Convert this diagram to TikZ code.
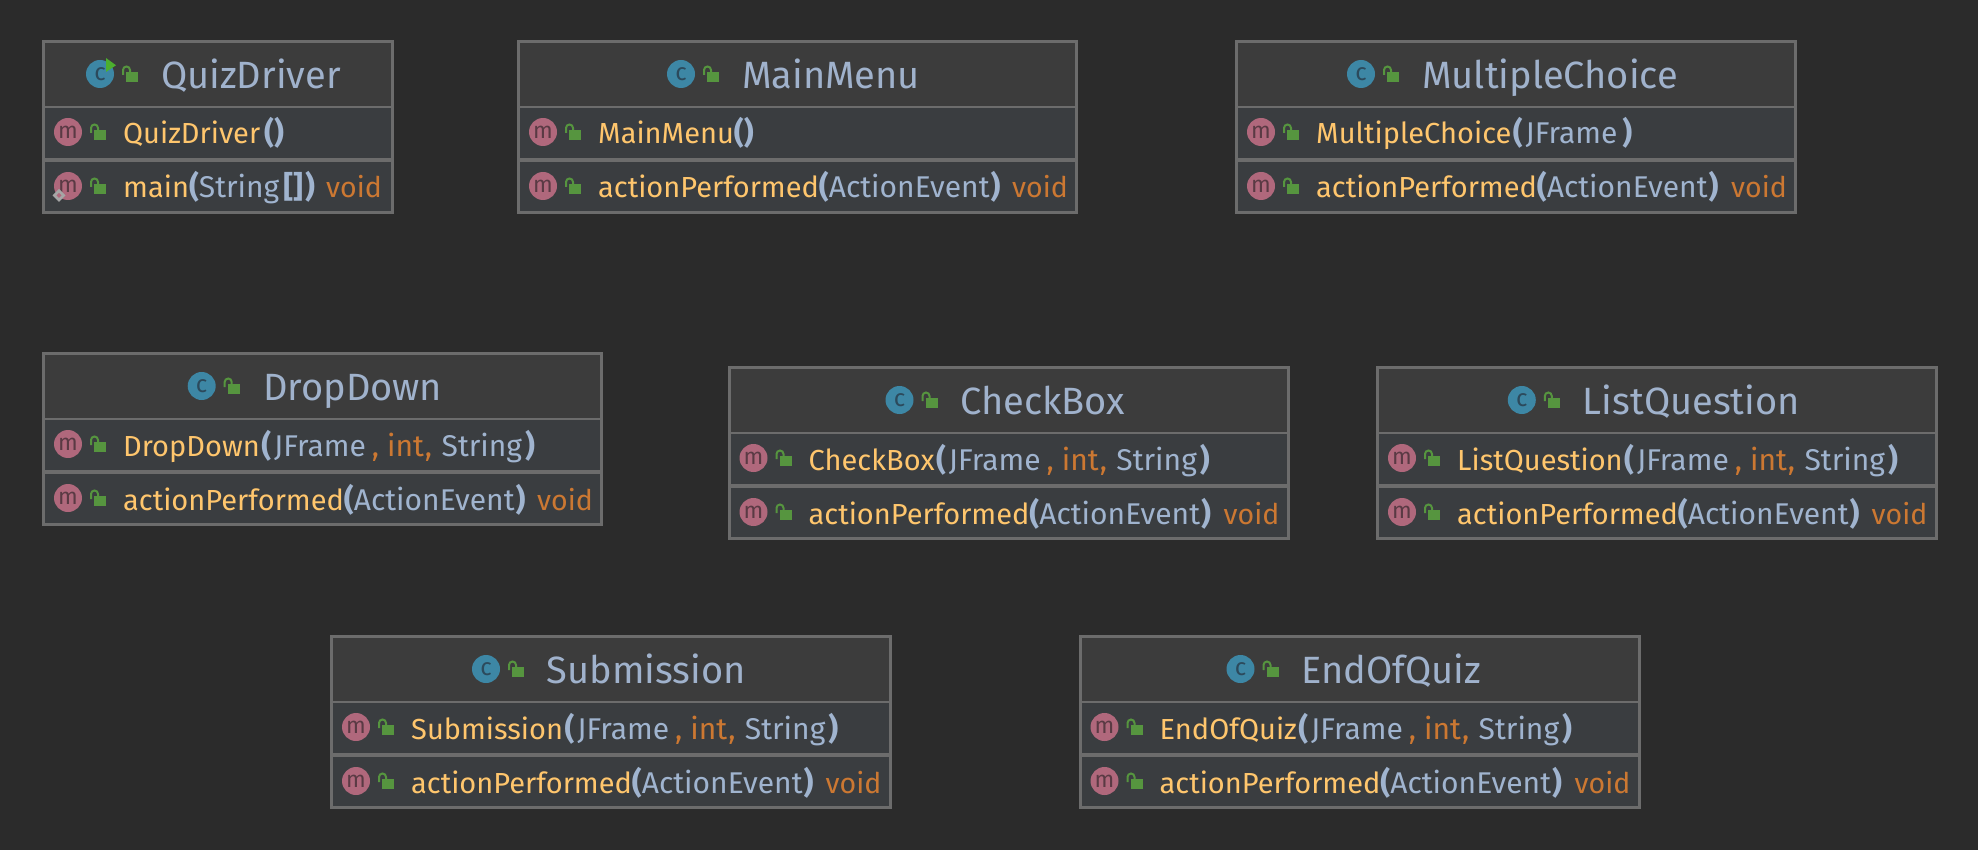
\documentclass[tikz,border=0pt]{standalone}
\usepackage{fontspec}
\setmainfont{Fira Sans}
\usetikzlibrary{calc}
\definecolor{bgc}{HTML}{2B2B2B}
\definecolor{headc}{HTML}{3C3C3C}
\definecolor{rowc}{HTML}{3A3D40}
\definecolor{linec}{HTML}{6C6C6C}
\definecolor{titlec}{HTML}{A0B2CC}
\definecolor{namec}{HTML}{FFC66D}
\definecolor{argc}{HTML}{A0B4CF}
\definecolor{kwc}{HTML}{CC7832}
\definecolor{mfill}{HTML}{B0687C}
\definecolor{mtext}{HTML}{5A3A44}
\definecolor{cfill}{HTML}{3D87A5}
\definecolor{ctext}{HTML}{2C4A5C}
\definecolor{lockc}{HTML}{56953F}
\definecolor{runc}{HTML}{4CAF2E}
\newcommand{\nm}[1]{\textcolor{namec}{#1}}
\newcommand{\ar}[1]{\textcolor{argc}{\fontsize{30}{30}\selectfont #1}}
\newcommand{\kw}[1]{\textcolor{kwc}{\fontsize{30}{30}\selectfont #1}}
\newcommand{\pa}[1]{\textcolor{argc}{\fontsize{30.5}{30}\selectfont\bfseries #1}}
\tikzset{
  x=1pt,y=-1pt,
  classbox/.style={draw=linec,fill=headc,line width=3pt,minimum height=171pt,inner sep=0pt,outer sep=0pt,anchor=north west},
  titletext/.style={anchor=base west,inner sep=0pt,text=titlec,font=\fontsize{38}{38}\selectfont},
  membertext/.style={anchor=base west,inner sep=0pt,font=\fontsize{29}{30}\selectfont},
  voidtext/.style={anchor=base east,inner sep=0pt,text=kwc,font=\fontsize{28.5}{30}\selectfont},
  mbadge/.style={circle,fill=mfill,minimum size=28pt,inner sep=0pt,text=mtext,font=\fontsize{23}{23}\selectfont},
  cbadge/.style={circle,fill=cfill,minimum size=28pt,inner sep=0pt,text=ctext,font=\fontsize{24}{24}\selectfont},
}
\newcommand{\lockicon}[2]{%
  \fill[lockc] (#1+4,#2-2) rectangle (#1+16,#2+8);
  \draw[lockc,line width=2pt] (#1+1,#2+1) -- (#1+1,#2-4) arc[start angle=180,end angle=360,radius=3.5] -- (#1+8,#2-2);
}
\newcommand{\umlclass}[8]{%
  \node[classbox,minimum width=#4-3] (#1) at (#2+1.5,#3+1.5) {};
  \fill[rowc] (#2+3,#3+66) rectangle (#2+#4-3,#3+171);
  \draw[linec,line width=2pt] (#2+3,#3+67) -- (#2+#4-3,#3+67);
  \draw[linec,line width=3.5pt] (#2+3,#3+120) -- (#2+#4-3,#3+120);
  \node[cbadge] (#1-icon) at (#5,#3+34) {c};
  \lockicon{#5+22}{#3+34}
  \node[titletext] (#1-title) at (#6-1,#3+48.5) {#7};
  \node[mbadge] (#1-m1) at (#2+26,#3+92) {m};
  \lockicon{#2+48}{#3+92}
  \node[membertext] (#1-ctor) at (#2+81,#3+104) {#8};
  \node[mbadge] (#1-m2) at (#2+26,#3+146) {m};
  \lockicon{#2+48}{#3+146}
}
\newcommand{\actionrow}[4]{%
  \node[membertext] (#1-act) at (#2+81,#3+158) {\nm{actionPerformed}\pa{(}\ar{ActionEvent}\hspace{1pt}\pa{)}};
  \node[voidtext] (#1-void) at (#2+#4-10,#3+158) {void};
}
\begin{document}
\begin{tikzpicture}
\useasboundingbox (0,0) rectangle (1978,850);
\fill[bgc] (0,0) rectangle (1978,850);

\umlclass{quiz}{42}{40}{352}{100}{162}{QuizDriver}{\nm{QuizDriver}\hspace{4pt}\pa{()}}
\fill[runc] (106,58) -- (116,65.3) -- (106,72) -- cycle;
\node[membertext] (quiz-main) at (123,198) {\nm{main}\pa{(}\ar{String}\hspace{4pt}\pa{[]}\hspace{2pt}\pa{)}};
\node[voidtext] (quiz-void) at (382,198) {void};
\fill[gray!70!white] (59,189) -- (65.5,195.5) -- (59,202) -- (52.5,195.5) -- cycle;
\fill[mfill] (59,193) -- (61.5,195.5) -- (59,198) -- (56.5,195.5) -- cycle;

\umlclass{menu}{517}{40}{561}{681}{743}{MainMenu}{\nm{MainMenu}\pa{()}}
\actionrow{menu}{517}{40}{561}
\umlclass{multi}{1235}{40}{562}{1361}{1423}{MultipleChoice}{\nm{MultipleChoice}\hspace{1.5pt}\pa{(}\hspace{3pt}\ar{JFrame}\hspace{5pt}\pa{)}}
\actionrow{multi}{1235}{40}{562}

\newcommand{\argsrow}{\hspace{1.5pt}\pa{(}\hspace{3pt}\ar{JFrame}\hspace{6pt}\kw{,}\hspace{8pt}\kw{int}\hspace{1pt}\kw{,}\hspace{9.5pt}\ar{String}\hspace{3pt}\pa{)}}
\umlclass{drop}{42}{352}{561}{201.7}{264}{DropDown}{\nm{DropDown}\argsrow}
\actionrow{drop}{42}{352}{561}
\umlclass{check}{727.5}{366}{562}{899.5}{961}{CheckBox}{\nm{CheckBox}\argsrow}
\actionrow{check}{727.5}{366}{562}
\umlclass{list}{1376}{366}{561.5}{1521.8}{1583.7}{ListQuestion}{\nm{ListQuestion}\argsrow}
\actionrow{list}{1376}{366}{561.5}

\umlclass{sub}{330}{635}{561.5}{486}{547.6}{Submission}{\nm{Submission}\argsrow}
\actionrow{sub}{330}{635}{561.5}
\umlclass{end}{1078.5}{635}{562}{1240.5}{1302}{EndOfQuiz}{\nm{EndOfQuiz}\argsrow}
\actionrow{end}{1078.5}{635}{562}
\end{tikzpicture}
\end{document}
